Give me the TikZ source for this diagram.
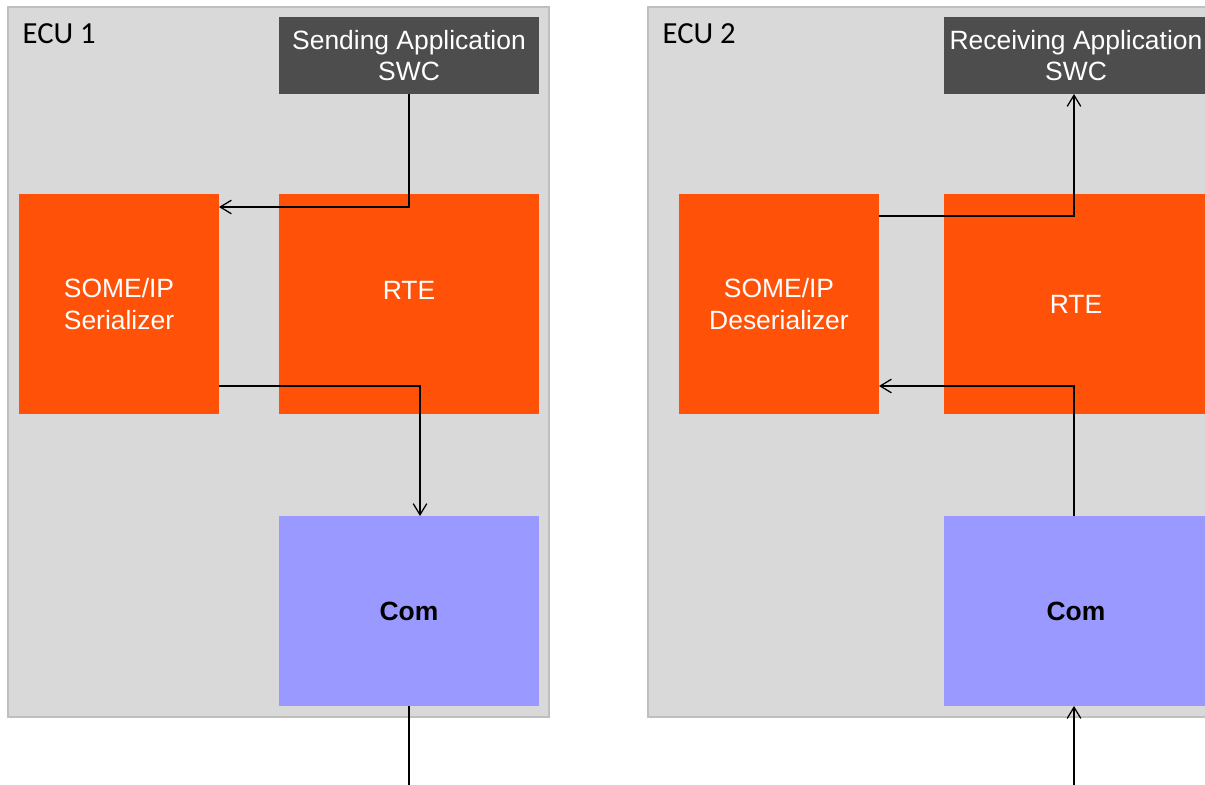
\documentclass[tikz,border=0pt]{standalone}
\usepackage{fontspec}
\setmainfont{Liberation Sans}
\newfontfamily\ecufont{Carlito}
\usetikzlibrary{arrows.meta}
\usetikzlibrary{positioning}
\definecolor{panelgray}{RGB}{217,217,217}
\definecolor{panelline}{RGB}{191,191,191}
\definecolor{swcgray}{RGB}{77,77,77}
\definecolor{rteorange}{RGB}{255,82,8}
\definecolor{comblue}{RGB}{153,153,255}
\tikzstyle{ecu} = [rectangle, minimum width=13.525cm, minimum height=17.75cm, draw=panelline, line width=1pt, fill=panelgray, outer sep=0pt]
\tikzstyle{ecutext} = [anchor=north west, inner sep=0pt, font=\ecufont\fontsize{21.8}{26}\selectfont]
\tikzstyle{app} = [rectangle, minimum width=6.5cm, minimum height=1.925cm, align=center, fill=swcgray, text=white, outer sep=0pt, font=\fontsize{18.8}{22.5}\selectfont]
\tikzstyle{layer} = [rectangle, minimum width=5cm, minimum height=5.5cm, align=center, fill=rteorange, text=white, outer sep=0pt, font=\fontsize{18.8}{23}\selectfont]
\tikzstyle{combox} = [rectangle, minimum width=6.5cm, minimum height=4.75cm, fill=comblue, text=black, outer sep=0pt, font=\bfseries\fontsize{18.8}{22}\selectfont]
\tikzstyle{arrow} = [line width=0.9pt, -{Straight Barb[length=2.8mm, width=3.4mm]}]
\tikzstyle{wire} = [line width=0.9pt]

\begin{document}
\begin{tikzpicture}
    \useasboundingbox (0,0) rectangle (30.125,-19.625);
    \clip (0,0) rectangle (30.125,-19.625);
    %ECU panels
    \node (ECU1) [ecu] at (6.9625,-9.05) {};
    \node (ECU2) [ecu, minimum width=14.175cm] at (23.2875,-9.05) {};
    \node (ECU1lbl) [ecutext] at ([xshift=0.36cm, yshift=-0.42cm]ECU1.north west) {ECU 1};
    \node (ECU2lbl) [ecutext] at ([xshift=0.36cm, yshift=-0.42cm]ECU2.north west) {ECU 2};
    %sender side
    \node (Ser) [layer] at (2.975,-7.6) {SOME/IP\\Serializer};
    \node (RTE1) [layer, minimum width=6.5cm, text height=0.5cm, text depth=0.75cm, right=1.5cm of Ser] {RTE};
    \node (SWC1) [app, above=2.5cm of RTE1] {Sending Application\\SWC};
    \node (Com1) [combox, below=2.55cm of RTE1] {Com};
    %receiver side
    \node (Deser) [layer] at (19.475,-7.6) {SOME/IP\\Deserializer};
    \node (RTE2) [layer, minimum width=6.6cm, right=1.625cm of Deser] {RTE};
    \node (SWC2) [app, minimum width=6.6cm, above=2.5cm of RTE2] {Receiving Application\\SWC};
    \node (Com2) [combox, minimum width=6.6cm, below=2.55cm of RTE2] {Com};
    %loose ends of the bus
    \coordinate (bus1) at ([yshift=-1.975cm]Com1.south);
    \coordinate (bus2) at ([xshift=-0.05cm, yshift=-1.975cm]Com2.south);
    %arrows
    \draw [arrow] (SWC1.south) |- ([yshift=-0.325cm]Ser.north east);
    \draw [arrow] ([yshift=0.7cm]Ser.south east) -| ([xshift=0.275cm]Com1.north);
    \draw [wire] (Com1.south) -- (bus1);
    \draw [arrow] ([yshift=-0.55cm]Deser.north east) -| ([xshift=-0.05cm]SWC2.south);
    \draw [arrow] ([xshift=-0.05cm]Com2.north) |- ([yshift=0.7cm]Deser.south east);
    \draw [arrow] (bus2) -- (bus2 |- Com2.south);
\end{tikzpicture}
\end{document}
